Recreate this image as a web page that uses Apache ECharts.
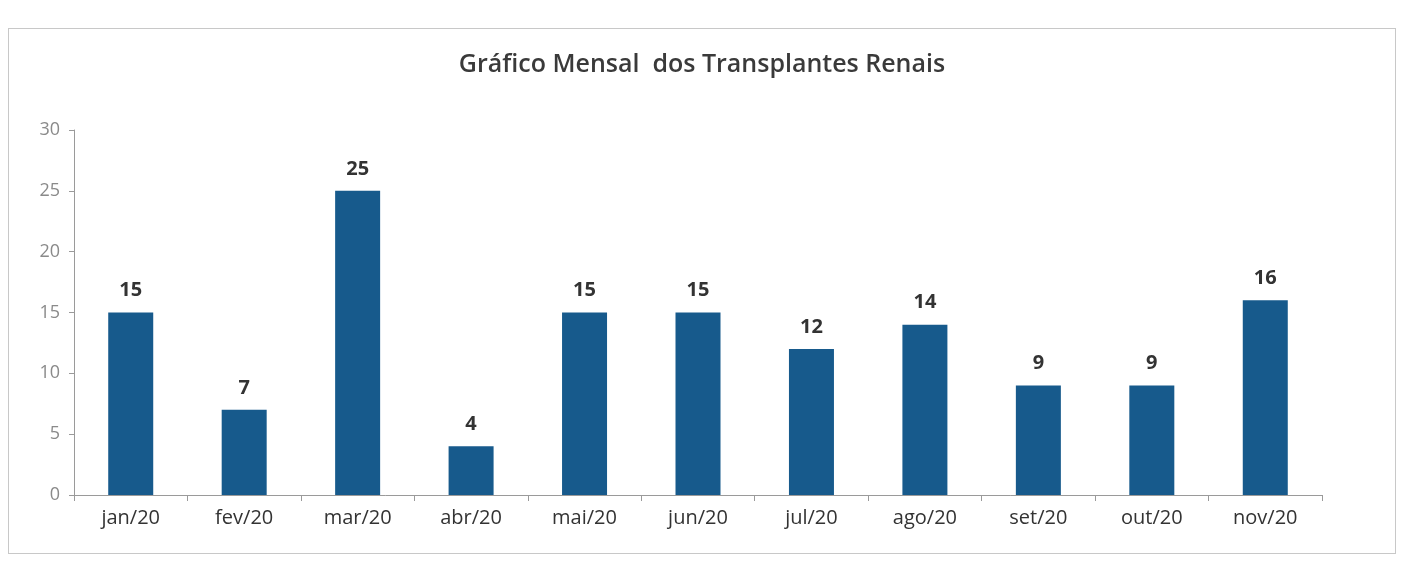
<!DOCTYPE html>
<html>
<head>
<meta charset="utf-8">
<script src="https://cdn.jsdelivr.net/npm/echarts@6/dist/echarts.min.js"></script>
<style>
    html, body { margin: 0; padding: 0; background: #fff; }
    #frame {
        position: absolute; left: 8px; top: 28px; width: 1386px; height: 524px;
        border: 1px solid #c8c8c8;
    }
    #main { position: absolute; left: 0; top: 0; width: 1404px; height: 571px; }
</style>
</head>
<body>
<div id="frame"></div>
<div id="main"></div>
<script>
// dados do gráfico
let meses = ['jan/20', 'fev/20', 'mar/20', 'abr/20', 'mai/20', 'jun/20', 'jul/20', 'ago/20', 'set/20', 'out/20', 'nov/20'];
let transplantes = [15, 7, 25, 4, 15, 15, 12, 14, 9, 9, 16];
let yTicks = [0, 5, 10, 15, 20, 25, 30];

let chart = echarts.init(document.querySelector('#main'));

let option = {
    animation: false,
    title: {
        text: 'Gráfico Mensal  dos Transplantes Renais',
        left: 'center',
        top: 47,
        textStyle: {
            fontFamily: 'Open Sans',
            fontSize: 25,
            fontWeight: 600,
            color: '#3a3a3a'
        }
    },
    grid: {
        left: 74,
        right: 82,
        top: 130,
        bottom: 76
    },
    xAxis: {
        type: 'category',
        data: meses,
        axisLine: { lineStyle: { color: '#9a9a9a' } },
        axisTick: { show: true, alignWithLabel: false, length: 6, lineStyle: { color: '#9a9a9a' } },
        axisLabel: {
            margin: 13,
            fontFamily: 'Open Sans',
            fontSize: 20,
            color: '#333'
        }
    },
    yAxis: {
        type: 'value',
        min: yTicks[0],
        max: yTicks[yTicks.length - 1],
        interval: 5,
        splitLine: { show: false },
        axisLine: { show: true, lineStyle: { color: '#9a9a9a' } },
        axisTick: { show: true, length: 5, lineStyle: { color: '#9a9a9a' } },
        axisLabel: {
            margin: 14,
            fontFamily: 'Open Sans',
            fontSize: 18,
            color: '#8a8a8a'
        }
    },
    series: [{
        type: 'bar',
        data: transplantes,
        barWidth: 45,
        itemStyle: { color: '#175a8c' },
        label: {
            show: true,
            position: 'top',
            distance: 12,
            fontFamily: 'Open Sans',
            fontSize: 20,
            fontWeight: 'bold',
            color: '#333'
        }
    }]
};
chart.setOption(option);
</script>
</body>
</html>
